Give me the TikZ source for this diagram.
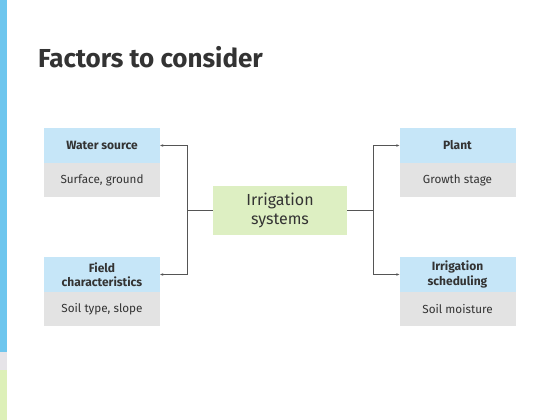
\documentclass[tikz,border=0pt]{standalone}
\usepackage{fontspec}
\setmainfont{Fira Sans}
\usetikzlibrary{arrows.meta}
\definecolor{hdrblue}{HTML}{C6E6F8}
\definecolor{bodygray}{HTML}{E3E3E3}
\definecolor{cgreen}{HTML}{DDEFC2}
\definecolor{txt}{HTML}{333333}
\definecolor{lnk}{HTML}{555555}
\definecolor{stripblue}{HTML}{6EC6EE}
\definecolor{stripgray}{HTML}{E6E4E8}
\definecolor{stripgreen}{HTML}{DDF0B8}
\tikzset{
  hdr/.style={fill=hdrblue, minimum width=116pt, minimum height=35pt, inner sep=0pt, align=center, text=txt, font=\fontsize{12}{14.5}\selectfont\bfseries},
  bdy/.style={fill=bodygray, minimum width=116pt, minimum height=34pt, inner sep=0pt, align=center, text=txt, font=\fontsize{11.7}{14}\selectfont},
  center/.style={fill=cgreen, minimum width=134pt, minimum height=49pt, inner sep=0pt, align=center, text=txt, font=\fontsize{16}{19}\selectfont},
  link/.style={draw=lnk, line width=0.7pt},
  arr/.style={link, -{Stealth[length=3pt,width=2.5pt]}}
}
\begin{document}
\begin{tikzpicture}[x=1pt,y=-1pt]
\useasboundingbox (0,0) rectangle (560,420);
\fill[white] (0,0) rectangle (560,420);
\fill[stripblue] (0,0) rectangle (7,352);
\fill[stripgray] (0,352) rectangle (7,370);
\fill[stripgreen] (0,370) rectangle (7,420);
\node[anchor=base west, text=txt, font=\fontsize{26}{30}\selectfont\bfseries, inner sep=0pt] (title) at (38,67) {Factors to consider};
% left boxes
\node[hdr] (ws) at (102,145.5) {Water source};
\node[bdy] (wsb) at (102,180) {Surface, ground};
\node[hdr] (fc) at (102,274.5) {Field\\characteristics};
\node[bdy] (fcb) at (102,309) {Soil type, slope};
% right boxes
\node[hdr] (pl) at (457.5,145.5) {Plant};
\node[bdy] (plb) at (457.5,180) {Growth stage};
\node[hdr] (is) at (457.5,274.5) {Irrigation\\scheduling};
\node[bdy] (isb) at (457.5,309) {Soil moisture};
% center
\node[center] (c) at (280,210.5) {Irrigation\\systems};
\coordinate (lj) at (187,210.5);
\coordinate (rj) at (373,210.5);
\draw[link] (c.west) -- (lj);
\draw[link] (c.east) -- (rj);
\draw[arr] (lj) |- (ws.east);
\draw[arr] (lj) |- (fc.east);
\draw[arr] (rj) |- (pl.west);
\draw[arr] (rj) |- (is.west);
\end{tikzpicture}
\end{document}
